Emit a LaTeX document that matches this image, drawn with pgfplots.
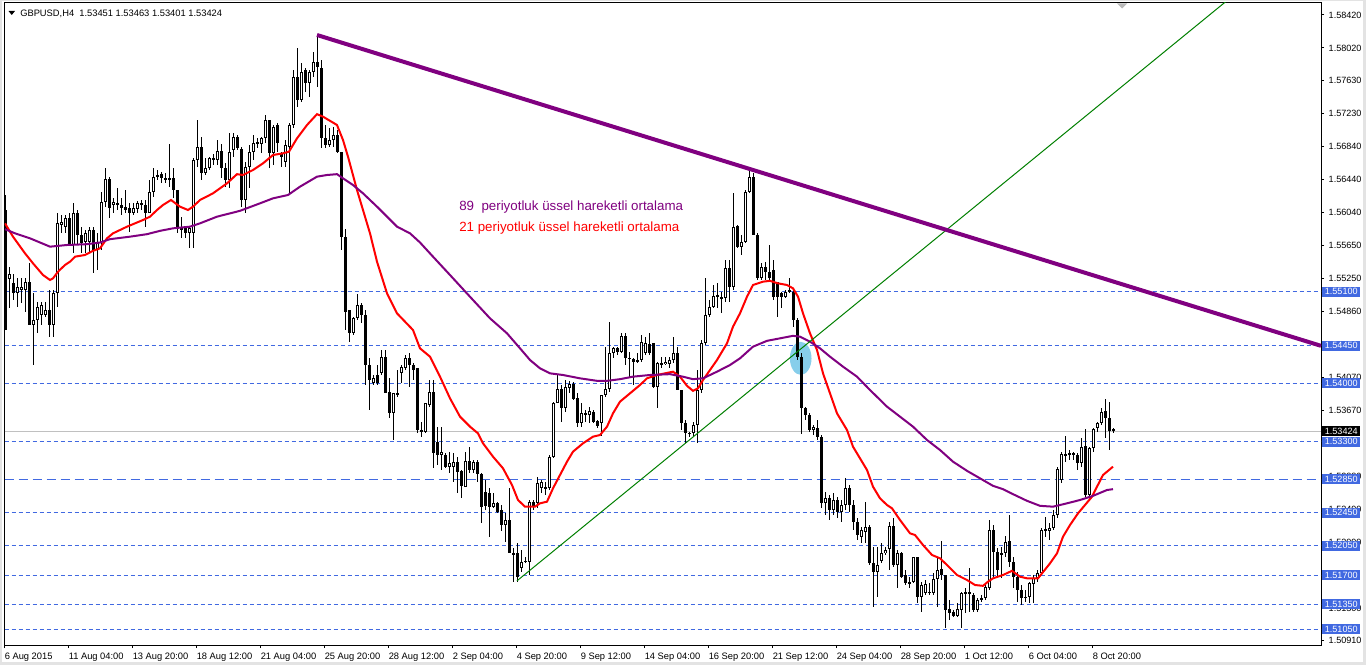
\documentclass[border=0pt]{standalone}
\usepackage{pgfplots}
\pgfplotsset{compat=1.18}
\usepackage{pgfplotstable}
\usepackage{fontspec}
\setmainfont{Liberation Sans}

\definecolor{mtblue}{RGB}{65,105,225}
\definecolor{mtpurple}{RGB}{128,0,128}
\definecolor{mtgreen}{RGB}{0,128,0}
\definecolor{mtcyan}{RGB}{135,206,235}
\definecolor{mtgrey}{RGB}{192,192,192}

% GBPUSD H4 bars: index, open, high, low, close
\pgfplotstableread{
j o h l c
0 1.5608 1.5626 1.5464 1.5464
1 1.5525 1.5540 1.5490 1.5531
2 1.5520 1.5531 1.5500 1.5508
3 1.5508 1.5526 1.5492 1.5516
4 1.5512 1.5527 1.5496 1.5516
5 1.5512 1.5526 1.5486 1.5522
6 1.5522 1.5544 1.5470 1.5470
7 1.5470 1.5508 1.5422 1.5476
8 1.5476 1.5498 1.5460 1.5492
9 1.5482 1.5498 1.5470 1.5494
10 1.5482 1.5498 1.5480 1.5488
11 1.5488 1.5512 1.5456 1.5470
12 1.5470 1.5512 1.5456 1.5508
13 1.5508 1.5604 1.5492 1.5592
14 1.5590 1.5602 1.5580 1.5594
15 1.5588 1.5602 1.5580 1.5598
16 1.5598 1.5604 1.5566 1.5566
17 1.5566 1.5616 1.5556 1.5604
18 1.5604 1.5608 1.5566 1.5578
19 1.5578 1.5588 1.5556 1.5569
20 1.5570 1.5584 1.5556 1.5580
21 1.5570 1.5588 1.5556 1.5584
22 1.5584 1.5588 1.5532 1.5560
23 1.5560 1.5580 1.5536 1.5570
24 1.5570 1.5630 1.5560 1.5618
25 1.5618 1.5658 1.5612 1.5645
26 1.5645 1.5648 1.5598 1.5610
27 1.5614 1.5622 1.5605 1.5618
28 1.5614 1.5634 1.5608 1.5616
29 1.5614 1.5622 1.5602 1.5610
30 1.5612 1.5632 1.5604 1.5608
31 1.5610 1.5616 1.5582 1.5604
32 1.5604 1.5616 1.5602 1.5610
33 1.5609 1.5619 1.5605 1.5616
34 1.5614 1.5620 1.5608 1.5616
35 1.5614 1.5620 1.5588 1.5605
36 1.5604 1.5644 1.5604 1.5630
37 1.5630 1.5658 1.5624 1.5648
38 1.5648 1.5656 1.5644 1.5650
39 1.5651 1.5654 1.5640 1.5646
40 1.5645 1.5652 1.5640 1.5646
41 1.5646 1.5687 1.5636 1.5645
42 1.5646 1.5658 1.5622 1.5632
43 1.5632 1.5632 1.5580 1.5588
44 1.5588 1.5600 1.5574 1.5584
45 1.5586 1.5588 1.5574 1.5580
46 1.5580 1.5588 1.5562 1.5586
47 1.5580 1.5670 1.5562 1.5668
48 1.5668 1.5716 1.5660 1.5684
49 1.5684 1.5696 1.5644 1.5652
50 1.5652 1.5670 1.5650 1.5658
51 1.5658 1.5672 1.5656 1.5670
52 1.5668 1.5675 1.5662 1.5670
53 1.5668 1.5692 1.5662 1.5679
54 1.5679 1.5687 1.5646 1.5658
55 1.5658 1.5664 1.5636 1.5644
56 1.5644 1.5700 1.5634 1.5678
57 1.5680 1.5700 1.5672 1.5696
58 1.5696 1.5698 1.5680 1.5682
59 1.5681 1.5684 1.5612 1.5620
60 1.5620 1.5666 1.5604 1.5660
61 1.5660 1.5686 1.5634 1.5678
62 1.5678 1.5698 1.5668 1.5688
63 1.5688 1.5694 1.5682 1.5689
64 1.5687 1.5696 1.5676 1.5694
65 1.5694 1.5722 1.5688 1.5716
66 1.5716 1.5716 1.5658 1.5676
67 1.5676 1.5710 1.5662 1.5708
68 1.5710 1.5712 1.5678 1.5688
69 1.5676 1.5678 1.5660 1.5672
70 1.5666 1.5692 1.5660 1.5686
71 1.5684 1.5712 1.5628 1.5710
72 1.5710 1.5776 1.5706 1.5768
73 1.5768 1.5802 1.5732 1.5740
74 1.5740 1.5784 1.5738 1.5774
75 1.5776 1.5778 1.5750 1.5760
76 1.5760 1.5776 1.5744 1.5774
77 1.5774 1.5798 1.5768 1.5786
78 1.5786 1.5818 1.5756 1.5780
79 1.5778 1.5788 1.5682 1.5694
80 1.5694 1.5710 1.5682 1.5686
81 1.5686 1.5706 1.5684 1.5692
82 1.5692 1.5708 1.5684 1.5698
83 1.5698 1.5704 1.5676 1.5678
84 1.5678 1.5678 1.5560 1.5576
85 1.5576 1.5585 1.5464 1.5486
86 1.5488 1.5488 1.5450 1.5460
87 1.5460 1.5480 1.5458 1.5478
88 1.5478 1.5507 1.5476 1.5494
89 1.5494 1.5496 1.5472 1.5482
90 1.5482 1.5488 1.5398 1.5422
91 1.5422 1.5431 1.5368 1.5404
92 1.5400 1.5410 1.5398 1.5406
93 1.5410 1.5422 1.5398 1.5400
94 1.5412 1.5440 1.5410 1.5432
95 1.5432 1.5440 1.5388 1.5388
96 1.5390 1.5406 1.5358 1.5364
97 1.5364 1.5388 1.5332 1.5388
98 1.5388 1.5416 1.5384 1.5387
99 1.5412 1.5422 1.5400 1.5420
100 1.5418 1.5434 1.5416 1.5431
101 1.5431 1.5436 1.5396 1.5422
102 1.5422 1.5424 1.5404 1.5416
103 1.5418 1.5418 1.5340 1.5344
104 1.5344 1.5354 1.5336 1.5342
105 1.5342 1.5376 1.5340 1.5376
106 1.5374 1.5404 1.5372 1.5390
107 1.5390 1.5404 1.5298 1.5316
108 1.5330 1.5348 1.5302 1.5314
109 1.5314 1.5348 1.5296 1.5318
110 1.5314 1.5316 1.5298 1.5300
111 1.5300 1.5318 1.5292 1.5304
112 1.5300 1.5316 1.5282 1.5306
113 1.5306 1.5312 1.5268 1.5294
114 1.5295 1.5296 1.5262 1.5277
115 1.5276 1.5318 1.5276 1.5307
116 1.5307 1.5324 1.5292 1.5296
117 1.5296 1.5308 1.5292 1.5306
118 1.5306 1.5308 1.5282 1.5291
119 1.5291 1.5292 1.5232 1.5252
120 1.5270 1.5284 1.5248 1.5253
121 1.5268 1.5274 1.5216 1.5252
122 1.5252 1.5268 1.5250 1.5256
123 1.5256 1.5258 1.5244 1.5246
124 1.5248 1.5254 1.5223 1.5230
125 1.5230 1.5244 1.5210 1.5236
126 1.5236 1.5274 1.5196 1.5196
127 1.5196 1.5202 1.5162 1.5195
128 1.5196 1.5208 1.5162 1.5168
129 1.5178 1.5200 1.5174 1.5186
130 1.5186 1.5192 1.5184 1.5187
131 1.5186 1.5260 1.5170 1.5258
132 1.5258 1.5260 1.5248 1.5252
133 1.5256 1.5288 1.5250 1.5280
134 1.5274 1.5284 1.5268 1.5282
135 1.5276 1.5282 1.5266 1.5273
136 1.5274 1.5314 1.5272 1.5312
137 1.5312 1.5378 1.5310 1.5376
138 1.5376 1.5410 1.5376 1.5393
139 1.5393 1.5398 1.5354 1.5370
140 1.5370 1.5404 1.5366 1.5396
141 1.5394 1.5403 1.5388 1.5399
142 1.5399 1.5402 1.5380 1.5381
143 1.5382 1.5388 1.5348 1.5352
144 1.5352 1.5376 1.5348 1.5364
145 1.5364 1.5368 1.5354 1.5362
146 1.5362 1.5372 1.5352 1.5367
147 1.5366 1.5368 1.5352 1.5354
148 1.5355 1.5356 1.5346 1.5349
149 1.5352 1.5386 1.5337 1.5386
150 1.5386 1.5444 1.5384 1.5393
151 1.5393 1.5474 1.5390 1.5436
152 1.5436 1.5444 1.5431 1.5442
153 1.5442 1.5444 1.5434 1.5438
154 1.5438 1.5460 1.5436 1.5457
155 1.5457 1.5460 1.5422 1.5431
156 1.5431 1.5438 1.5408 1.5429
157 1.5429 1.5431 1.5398 1.5426
158 1.5426 1.5436 1.5424 1.5428
159 1.5428 1.5458 1.5426 1.5450
160 1.5436 1.5456 1.5434 1.5448
161 1.5447 1.5460 1.5434 1.5436
162 1.5448 1.5448 1.5394 1.5396
163 1.5396 1.5426 1.5370 1.5424
164 1.5424 1.5432 1.5418 1.5423
165 1.5423 1.5432 1.5422 1.5426
166 1.5423 1.5432 1.5418 1.5428
167 1.5428 1.5456 1.5424 1.5436
168 1.5436 1.5444 1.5392 1.5392
169 1.5392 1.5392 1.5344 1.5352
170 1.5352 1.5356 1.5328 1.5340
171 1.5340 1.5342 1.5336 1.5341
172 1.5340 1.5354 1.5336 1.5350
173 1.5350 1.5416 1.5328 1.5392
174 1.5392 1.5452 1.5388 1.5448
175 1.5448 1.5526 1.5446 1.5482
176 1.5482 1.5500 1.5480 1.5492
177 1.5492 1.5518 1.5490 1.5505
178 1.5504 1.5520 1.5490 1.5506
179 1.5502 1.5510 1.5484 1.5504
180 1.5502 1.5548 1.5498 1.5538
181 1.5538 1.5548 1.5498 1.5516
182 1.5516 1.5628 1.5512 1.5588
183 1.5589 1.5590 1.5562 1.5564
184 1.5564 1.5578 1.5554 1.5570
185 1.5570 1.5632 1.5569 1.5630
186 1.5630 1.5658 1.5628 1.5648
187 1.5648 1.5652 1.5578 1.5578
188 1.5578 1.5580 1.5524 1.5527
189 1.5527 1.5544 1.5524 1.5540
190 1.5540 1.5546 1.5524 1.5534
191 1.5534 1.5566 1.5522 1.5527
192 1.5536 1.5548 1.5500 1.5504
193 1.5522 1.5522 1.5480 1.5504
194 1.5508 1.5510 1.5490 1.5504
195 1.5504 1.5512 1.5502 1.5510
196 1.5512 1.5527 1.5508 1.5510
197 1.5510 1.5512 1.5468 1.5476
198 1.5476 1.5478 1.5428 1.5432
199 1.5432 1.5436 1.5339 1.5370
200 1.5370 1.5372 1.5356 1.5362
201 1.5362 1.5364 1.5342 1.5344
202 1.5344 1.5350 1.5338 1.5348
203 1.5346 1.5356 1.5332 1.5336
204 1.5336 1.5338 1.5250 1.5256
205 1.5256 1.5270 1.5242 1.5262
206 1.5262 1.5266 1.5236 1.5248
207 1.5248 1.5268 1.5242 1.5260
208 1.5260 1.5264 1.5238 1.5246
209 1.5246 1.5260 1.5234 1.5254
210 1.5254 1.5286 1.5248 1.5274
211 1.5274 1.5278 1.5246 1.5254
212 1.5254 1.5260 1.5224 1.5234
213 1.5234 1.5238 1.5212 1.5218
214 1.5216 1.5228 1.5209 1.5224
215 1.5222 1.5258 1.5209 1.5228
216 1.5228 1.5230 1.5182 1.5184
217 1.5184 1.5204 1.5132 1.5174
218 1.5174 1.5204 1.5144 1.5182
219 1.5187 1.5208 1.5184 1.5196
220 1.5196 1.5204 1.5194 1.5200
221 1.5201 1.5234 1.5176 1.5229
222 1.5229 1.5238 1.5180 1.5182
223 1.5182 1.5200 1.5154 1.5196
224 1.5196 1.5198 1.5166 1.5168
225 1.5170 1.5176 1.5158 1.5160
226 1.5162 1.5168 1.5154 1.5160
227 1.5162 1.5192 1.5160 1.5192
228 1.5192 1.5192 1.5136 1.5144
229 1.5144 1.5162 1.5126 1.5158
230 1.5148 1.5164 1.5146 1.5159
231 1.5150 1.5160 1.5146 1.5149
232 1.5148 1.5172 1.5146 1.5165
233 1.5165 1.5190 1.5132 1.5176
234 1.5177 1.5211 1.5164 1.5170
235 1.5170 1.5170 1.5106 1.5128
236 1.5129 1.5140 1.5116 1.5124
237 1.5126 1.5128 1.5120 1.5121
238 1.5121 1.5136 1.5120 1.5129
239 1.5128 1.5150 1.5106 1.5148
240 1.5148 1.5154 1.5124 1.5149
241 1.5149 1.5178 1.5126 1.5148
242 1.5146 1.5148 1.5126 1.5128
243 1.5128 1.5142 1.5126 1.5140
244 1.5140 1.5146 1.5138 1.5142
245 1.5142 1.5158 1.5140 1.5156
246 1.5154 1.5236 1.5152 1.5224
247 1.5224 1.5230 1.5168 1.5198
248 1.5198 1.5202 1.5168 1.5176
249 1.5194 1.5204 1.5166 1.5196
250 1.5196 1.5217 1.5192 1.5210
251 1.5211 1.5242 1.5180 1.5186
252 1.5186 1.5192 1.5154 1.5168
253 1.5168 1.5174 1.5138 1.5152
254 1.5152 1.5158 1.5134 1.5142
255 1.5144 1.5152 1.5138 1.5143
256 1.5144 1.5162 1.5136 1.5160
257 1.5159 1.5170 1.5136 1.5166
258 1.5166 1.5176 1.5162 1.5172
259 1.5172 1.5227 1.5170 1.5224
260 1.5224 1.5240 1.5216 1.5225
261 1.5223 1.5232 1.5212 1.5227
262 1.5227 1.5248 1.5224 1.5242
263 1.5242 1.5300 1.5238 1.5297
264 1.5284 1.5318 1.5280 1.5315
265 1.5315 1.5337 1.5306 1.5314
266 1.5315 1.5320 1.5308 1.5316
267 1.5316 1.5318 1.5308 1.5315
268 1.5314 1.5316 1.5296 1.5304
269 1.5304 1.5334 1.5300 1.5324
270 1.5325 1.5345 1.5264 1.5266
271 1.5266 1.5324 1.5264 1.5322
272 1.5322 1.5346 1.5318 1.5345
273 1.5346 1.5354 1.5342 1.5352
274 1.5352 1.5370 1.5350 1.5366
275 1.5367 1.5381 1.5334 1.5358
276 1.5358 1.5378 1.5320 1.5343
277 1.53451 1.53463 1.53401 1.53424
}\bars

\tikzset{
  lvl/.style={mtblue, line width=0.75pt, dash pattern=on 3pt off 2.25pt},
  pricebox/.style={fill=mtblue, text=white, font=\fontsize{6.8}{8}\selectfont,
    inner sep=0pt, minimum height=7.5pt, minimum width=28.5pt, anchor=west},
}

\begin{document}
\begin{tikzpicture}
\fill[gray!22] (0,0) rectangle (1024.5pt,498.75pt);
\fill[white] (1.5pt,2.25pt) rectangle (1022.25pt,498pt);
\useasboundingbox (0,0) rectangle (1024.5pt,498.75pt);

\begin{axis}[
  at={(3.375pt,15pt)}, anchor=south west,
  scale only axis, width=987.375pt, height=481.5pt,
  xmin=4.5, xmax=1321, ymin=1.5086, ymax=1.58564,
  axis line style={black, line width=0.75pt},
  xtick pos=bottom, ytick pos=right, yticklabel pos=right,
  tick align=outside, major tick length=2.25pt,
  every tick/.style={black, line width=0.75pt},
  xtick={4.5,68.5,...,1092.5},
  xticklabels={6 Aug 2015, 11 Aug 04:00, 13 Aug 20:00, 18 Aug 12:00, 21 Aug 04:00,
    25 Aug 20:00, 28 Aug 12:00, 2 Sep 04:00, 4 Sep 20:00, 9 Sep 12:00,
    14 Sep 04:00, 16 Sep 20:00, 21 Sep 12:00, 24 Sep 04:00, 28 Sep 20:00,
    1 Oct 12:00, 6 Oct 04:00, 8 Oct 20:00},
  ytick={1.50910,1.51305,1.51701,1.52096,1.52491,1.52887,1.53282,1.53677,1.54072,1.54468,
    1.54863,1.55258,1.55654,1.56049,1.56444,1.56840,1.57235,1.57630,1.58025,1.58420},
  yticklabels={1.50910,1.51300,{},1.52090,1.52490,1.52880,{},1.53670,1.54070,{},
    1.54860,1.55250,1.55650,1.56040,1.56440,1.56840,1.57230,1.57630,1.58020,1.58420},
  xticklabel style={font=\fontsize{7}{8}\selectfont, anchor=north west, inner xsep=0pt},
  yticklabel style={font=\fontsize{6.8}{8}\selectfont, anchor=west},
]
% horizontal levels
\addplot[lvl] coordinates {(4.5,1.5510)(1321,1.5510)};
\addplot[lvl] coordinates {(4.5,1.5445)(1321,1.5445)};
\addplot[lvl] coordinates {(4.5,1.5400)(1321,1.5400)};
\addplot[lvl] coordinates {(4.5,1.5330)(1321,1.5330)};
\addplot[mtblue, line width=0.75pt, dash pattern=on 7pt off 3.5pt] coordinates {(4.5,1.5285)(1321,1.5285)};
\addplot[lvl] coordinates {(4.5,1.5245)(1321,1.5245)};
\addplot[lvl] coordinates {(4.5,1.5205)(1321,1.5205)};
\addplot[lvl] coordinates {(4.5,1.5170)(1321,1.5170)};
\addplot[lvl] coordinates {(4.5,1.5135)(1321,1.5135)};
\addplot[lvl] coordinates {(4.5,1.5105)(1321,1.5105)};
\addplot[mtgrey, line width=0.75pt] coordinates {(4.5,1.53424)(1321,1.53424)};

\fill[mtcyan] (axis cs:800.7,1.5430) ellipse [x radius=8.1pt, y radius=12.4pt];

% wicks
\addplot[draw=none, mark=none, error bars/.cd, y dir=both, y explicit, error mark=none,
  error bar style={draw=black, solid, line width=0.75pt}]
  table[x expr=5.5+4*\thisrow{j}, y expr=(\thisrow{h}+\thisrow{l})/2,
        y error expr=(\thisrow{h}-\thisrow{l})/2] {\bars};
% bodies
\addplot[draw=none, mark=none, error bars/.cd, y dir=both, y explicit, error mark=none,
  error bar style={draw=black, solid, line width=2.25pt}]
  table[x expr=5.5+4*\thisrow{j}, y expr=(\thisrow{o}+\thisrow{c})/2,
        y error expr={max(abs(\thisrow{c}-\thisrow{o})/2,0.00006)}] {\bars};
% hollow interior of rising bars
\addplot[draw=none, mark=none, error bars/.cd, y dir=both, y explicit, error mark=none,
  error bar style={draw=white, solid, line width=0.75pt}]
  table[x expr=5.5+4*\thisrow{j}, y expr=(\thisrow{o}+\thisrow{c})/2,
        y error expr={max((\thisrow{c}-\thisrow{o})/2-0.00012,0)}] {\bars};

% EMA 21
\addplot[red, line width=1.5pt] coordinates {
(5,1.5592)(13,1.5576)(25,1.5556)(33,1.5544)(43,1.5530)(50,1.5524)(53,1.5526)(58,1.5534)
(65,1.5542)(70,1.5546)(75,1.5552)(85,1.5554)(93,1.5559)(100,1.5562)(107,1.5574)(113,1.5580)
(127,1.5588)(143,1.5596)(150,1.5600)(157,1.5608)(163,1.5614)(171,1.5620)(180,1.5612)(188,1.5608)
(193,1.5612)(200,1.5620)(213,1.5628)(227,1.5640)(237,1.5651)(243,1.5650)(253,1.5656)(263,1.5664)
(273,1.5674)(283,1.5676)(289,1.5678)(297,1.5694)(307,1.5710)(317,1.5723)(323,1.5720)(337,1.5710)
(343,1.5692)(348,1.5672)(357,1.5632)(363,1.5608)(370,1.5580)(377,1.5546)(387,1.5508)(397,1.5484)
(413,1.5464)(420,1.5442)(430,1.5432)(440,1.5408)(450,1.5382)(460,1.5360)(470,1.5348)(478,1.5340)
(483,1.5328)(493,1.5312)(503,1.5298)(512,1.5278)(518,1.5260)(525,1.5252)(535,1.5252)(540,1.5256)
(547,1.5258)(553,1.5274)(560,1.5290)(567,1.5306)(573,1.5318)(583,1.5328)(593,1.5336)(600,1.5338)
(607,1.5348)(613,1.5364)(620,1.5378)(630,1.5388)(640,1.5398)(647,1.5406)(657,1.5410)(673,1.5414)
(680,1.5408)(687,1.5397)(693,1.5391)(698,1.5394)(703,1.5404)(710,1.5416)(717,1.5428)(727,1.5448)
(733,1.5468)(740,1.5484)(747,1.5504)(753,1.5518)(763,1.5522)(770,1.5523)(778,1.5520)(787,1.5518)
(793,1.5514)(798,1.5504)(803,1.5484)(810,1.5460)(817,1.5440)(823,1.5412)(830,1.5388)(837,1.5364)
(847,1.5344)(853,1.5324)(860,1.5310)(867,1.5296)(873,1.5276)(880,1.5262)(887,1.5254)(892,1.5250)
(900,1.5236)(910,1.5220)(915,1.5218)(923,1.5206)(932,1.5194)(940,1.5190)(947,1.5182)(957,1.5170)
(967,1.5164)(975,1.5158)(983,1.5157)(988,1.5162)(993,1.5166)(1003,1.5170)(1012,1.5175)(1020,1.5168)
(1027,1.5166)(1038,1.5166)(1050,1.5184)(1057,1.5196)(1063,1.5216)(1070,1.5230)(1078,1.5244)
(1085,1.5254)(1092,1.5264)(1097,1.5276)(1103,1.5290)(1113,1.5300)};

% EMA 89
\addplot[mtpurple, line width=1.5pt] coordinates {
(5,1.5585)(15,1.5580)(30,1.5574)(40,1.5569)(50,1.5564)(67,1.5566)(87,1.5567)(100,1.5569)
(110,1.5573)(130,1.5576)(147,1.5579)(160,1.5583)(173,1.5586)(190,1.5588)(200,1.5592)(217,1.5600)
(240,1.5607)(260,1.5616)(273,1.5622)(288,1.5626)(300,1.5636)(317,1.5648)(327,1.5650)(337,1.5651)
(343,1.5646)(353,1.5638)(363,1.5628)(377,1.5612)(387,1.5600)(397,1.5588)(410,1.5580)(420,1.5569)
(433,1.5552)(450,1.5530)(473,1.5500)(490,1.5478)(507,1.5460)(520,1.5442)(530,1.5428)(540,1.5418)
(550,1.5412)(563,1.5410)(580,1.5406)(597,1.5403)(607,1.5403)(620,1.5405)(633,1.5408)(650,1.5410)
(670,1.5411)(683,1.5408)(693,1.5405)(703,1.5406)(717,1.5414)(730,1.5422)(740,1.5430)(753,1.5444)
(767,1.5451)(780,1.5454)(793,1.5457)(800,1.5456)(810,1.5450)(820,1.5442)(830,1.5432)(843,1.5420)
(857,1.5408)(870,1.5392)(887,1.5372)(900,1.5360)(913,1.5348)(927,1.5332)(940,1.5320)(953,1.5306)
(967,1.5295)(980,1.5286)(993,1.5277)(1003,1.5273)(1013,1.5267)(1027,1.5259)(1040,1.5253)
(1053,1.5252)(1067,1.5256)(1080,1.5260)(1093,1.5265)(1107,1.5272)(1113,1.5273)};

% trend lines
\addplot[mtgreen, line width=0.75pt] coordinates {(517,1.5163)(1240,1.5872)};
\addplot[mtpurple, line width=3pt] coordinates {(317,1.5818)(1321,1.5445)};

\coordinate (b1) at (axis cs:1321,1.5510);
\coordinate (b2) at (axis cs:1321,1.5445);
\coordinate (b3) at (axis cs:1321,1.5400);
\coordinate (b4) at (axis cs:1321,1.53424);
\coordinate (b5) at (axis cs:1321,1.5330);
\coordinate (b6) at (axis cs:1321,1.5285);
\coordinate (b7) at (axis cs:1321,1.5245);
\coordinate (b8) at (axis cs:1321,1.5205);
\coordinate (b9) at (axis cs:1321,1.5170);
\coordinate (b10) at (axis cs:1321,1.5135);
\coordinate (b11) at (axis cs:1321,1.5105);
\end{axis}

\node[pricebox] at ([xshift=0.75pt]b1) {1.55100};
\node[pricebox] at ([xshift=0.75pt]b2) {1.54450};
\node[pricebox] at ([xshift=0.75pt]b3) {1.54000};
\node[pricebox, fill=black] at ([xshift=0.75pt]b4) {1.53424};
\node[pricebox] at ([xshift=0.75pt]b5) {1.53300};
\node[pricebox] at ([xshift=0.75pt]b6) {1.52850};
\node[pricebox] at ([xshift=0.75pt]b7) {1.52450};
\node[pricebox] at ([xshift=0.75pt]b8) {1.52050};
\node[pricebox] at ([xshift=0.75pt]b9) {1.51700};
\node[pricebox] at ([xshift=0.75pt]b10) {1.51350};
\node[pricebox] at ([xshift=0.75pt]b11) {1.51050};

\begin{scope}[x=0.75pt, y=-0.75pt, shift={(0pt,498.75pt)}]
\fill[black] (8.5,11) -- (15,11) -- (11.75,15) -- cycle;
\node[anchor=base west, inner sep=0pt, font=\fontsize{7}{8}\selectfont]
  at (20,16.5) {GBPUSD,H4\ \ 1.53451 1.53463 1.53401 1.53424};
\fill[gray!55] (1117,3.5) -- (1127,3.5) -- (1122,8.5) -- cycle;
\node[anchor=base west, inner sep=0pt, text=mtpurple, font=\fontsize{10}{12}\selectfont]
  at (459,211) {89\ \ periyotluk üssel hareketli ortalama};
\node[anchor=base west, inner sep=0pt, text=red, font=\fontsize{10}{12}\selectfont]
  at (459,232) {21 periyotluk üssel hareketli ortalama};
\end{scope}
\end{tikzpicture}
\end{document}
